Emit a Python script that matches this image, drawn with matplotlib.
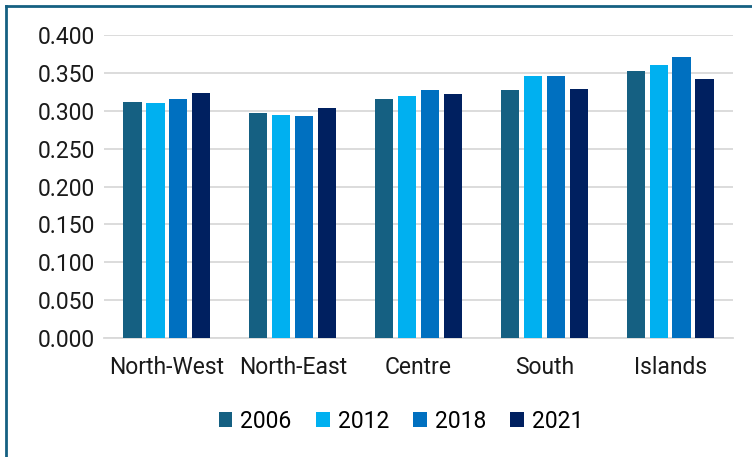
import matplotlib
matplotlib.use("Agg")
import matplotlib.pyplot as plt
import numpy as np
from matplotlib.lines import Line2D

plt.rcParams['font.family'] = ['Roboto', 'DejaVu Sans']

categories = ["North-West", "North-East", "Centre", "South", "Islands"]
years = ["2006", "2012", "2018", "2021"]
v2006 = [0.312, 0.297, 0.315, 0.328, 0.353]
v2012 = [0.310, 0.294, 0.320, 0.346, 0.361]
v2018 = [0.315, 0.293, 0.328, 0.346, 0.371]
v2021 = [0.323, 0.303, 0.322, 0.329, 0.342]
series = [v2006, v2012, v2018, v2021]
colors = ["#156082", "#00B0F0", "#0070C0", "#002060"]
yticks = [0.0, 0.05, 0.1, 0.15, 0.2, 0.25, 0.3, 0.35, 0.4]

FS = 16.5

fig = plt.figure(figsize=(7.52, 4.57), dpi=100)
ax = fig.add_axes([104/752, 1-338/457, (733-104)/752, (338-35)/457])

x = np.arange(len(categories))
step = 0.182
width = 0.145
for i, (vals, c, yr) in enumerate(zip(series, colors, years)):
    ax.bar(x + (i - 1.5) * step, vals, width=width, color=c, label=yr, zorder=3)

ax.set_xlim(-0.5, len(categories) - 0.5)
ax.set_ylim(0, 0.4)
ax.set_yticks(yticks)
ax.set_yticklabels([f"{t:.3f}" for t in yticks], fontsize=FS, color="#1a1a1a")
ax.set_xticks(x)
ax.set_xticklabels(categories, fontsize=FS, color="#1a1a1a")
ax.tick_params(axis='both', length=0)
ax.tick_params(axis='y', pad=6.5)
ax.tick_params(axis='x', pad=13)
ax.grid(axis='y', color="#d9d9d9", linewidth=1.3, zorder=0)
for s in ['top', 'right', 'left']:
    ax.spines[s].set_visible(False)
ax.spines['bottom'].set_color("#d9d9d9")
ax.spines['bottom'].set_linewidth(1.3)

leg = fig.legend(loc='center', bbox_to_anchor=(401/752, 1-421/457), ncol=4,
                 frameon=False, fontsize=FS, handlelength=0.6, handleheight=0.6,
                 handletextpad=0.35, columnspacing=1.05)

# outer border (top and left)
fig.add_artist(Line2D([6/752, 6/752], [0, 1-6/457], transform=fig.transFigure,
                      color="#156082", linewidth=2))
fig.add_artist(Line2D([6/752, 1], [1-6/457, 1-6/457], transform=fig.transFigure,
                      color="#156082", linewidth=2))

fig.savefig("out.png", dpi=100)
